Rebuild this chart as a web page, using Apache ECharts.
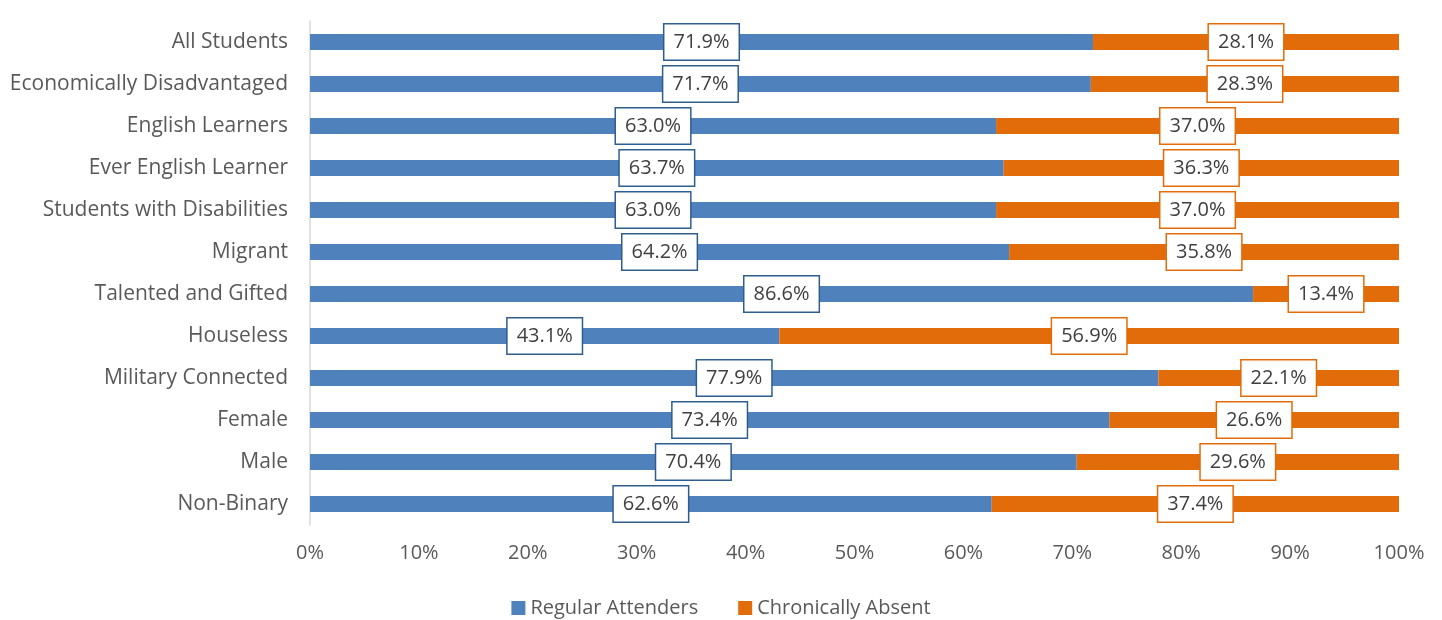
<!DOCTYPE html>
<html>
<head>
<meta charset="utf-8">
<script src="https://cdn.jsdelivr.net/npm/echarts@6/dist/echarts.min.js"></script>
<style>
  html, body { margin: 0; padding: 0; background: #fff; }
  #chart { width: 1442px; height: 620px; }
</style>
</head>
<body>
<div id="chart"></div>
<script>
// groups, top to bottom
const groups = ['All Students', 'Economically Disadvantaged', 'English Learners', 'Ever English Learner',
  'Students with Disabilities', 'Migrant', 'Talented and Gifted', 'Houseless', 'Military Connected',
  'Female', 'Male', 'Non-Binary'];
const regular = [71.9, 71.7, 63.0, 63.7, 63.0, 64.2, 86.6, 43.1, 77.9, 73.4, 70.4, 62.6];
const absent = [28.1, 28.3, 37.0, 36.3, 37.0, 35.8, 13.4, 56.9, 22.1, 26.6, 29.6, 37.4];
const seriesNames = ['Regular Attenders', 'Chronically Absent'];

const font = 'Open Sans';
const chart = echarts.init(document.getElementById('chart'));

function boxLabel(color) {
  return {
    show: true,
    position: 'inside',
    formatter: p => p.value.toFixed(1) + '%',
    backgroundColor: '#fff',
    borderColor: color,
    borderWidth: 1.5,
    padding: [8, 9, 7, 9],
    color: '#404040',
    fontFamily: font,
    fontSize: 20
  };
}

const option = {
  animation: false,
  textStyle: { fontFamily: font },
  grid: { left: 310, right: 43, top: 21, height: 504 },
  legend: {
    top: 598,
    left: 'center',
    padding: 0,
    itemWidth: 14,
    itemHeight: 14,
    itemGap: 40,
    icon: 'rect',
    textStyle: { fontSize: 20, color: '#595959', fontFamily: font },
    data: seriesNames
  },
  xAxis: {
    type: 'value',
    min: 0,
    max: 100,
    interval: 10,
    splitLine: { show: false },
    axisLine: { show: false },
    axisTick: { show: false },
    axisLabel: { formatter: '{value}%', fontSize: 20, color: '#595959', margin: 18, fontFamily: font }
  },
  yAxis: {
    type: 'category',
    inverse: true,
    data: groups,
    axisLine: { show: true, lineStyle: { color: '#d9d9d9', width: 1.5 } },
    axisTick: { show: false },
    axisLabel: { fontSize: 21, color: '#595959', margin: 22, fontFamily: font }
  },
  series: [
    {
      name: seriesNames[0],
      type: 'bar',
      stack: 'total',
      barWidth: 16,
      data: regular,
      itemStyle: { color: '#4f81bd' },
      label: boxLabel('#2f5d8f')
    },
    {
      name: seriesNames[1],
      type: 'bar',
      stack: 'total',
      barWidth: 16,
      data: absent,
      itemStyle: { color: '#e36c0a' },
      label: boxLabel('#e36c0a')
    }
  ]
};
chart.setOption(option);
</script>
</body>
</html>
